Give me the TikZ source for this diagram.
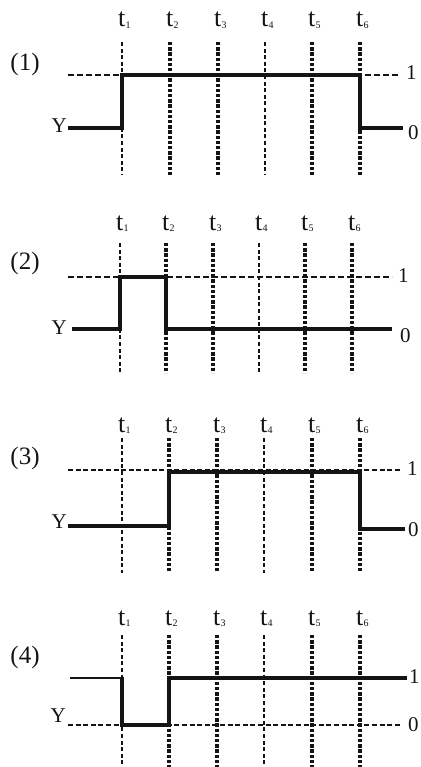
\documentclass[tikz,border=0pt]{standalone}
\usepackage{fontspec}
\setmainfont{Liberation Serif}
\definecolor{waveInk}{HTML}{141414}
\newcommand{\tmark}[1]{t\kern0.2pt\raisebox{-1.2pt}{\fontsize{10}{10}\selectfont #1}}
\tikzset{
  timefig/.style={
    x=1pt, y=-1pt,
    every node/.append style={inner sep=0pt, text=waveInk},
  },
  tthin/.style={draw=waveInk, line width=1.7pt, dash pattern=on 4pt off 2.6pt},
  tthick/.style={draw=waveInk, line width=3.3pt, dash pattern=on 3.4pt off 1.8pt},
  levelthin/.style={draw=waveInk, line width=1.4pt, dash pattern=on 6pt off 3pt},
  levelthick/.style={draw=waveInk, line width=2.4pt, dash pattern=on 5pt off 2.6pt},
  wave/.style={draw=waveInk, line width=3.4pt, line join=miter},
  tlabel/.style={font=\fontsize{26}{26}\selectfont, anchor=base west},
  panellabel/.style={font=\fontsize{25}{25}\selectfont},
  levellabel/.style={font=\fontsize{21}{21}\selectfont, anchor=west},
  ylabel/.style={font=\fontsize{21}{21}\selectfont, anchor=east},
}

\begin{document}
\begin{tikzpicture}[timefig]
  \useasboundingbox (0,0) rectangle (420,767);
  % (1)
  \foreach \i/\x/\s in {1/122/tthin, 2/170/tthick, 3/218/tthick, 4/265/tthin, 5/312/tthick, 6/360/tthick} {
    \draw[\s] (\x,42) -- (\x,175);
    \node[tlabel] (tA\i) at (\x-4,27) {\tmark{\i}};
  }
  \node[panellabel] (panelA) at (25,64) {(1)};
  \node[ylabel] (yA) at (67,126) {Y};
  \node[levellabel] (oneA) at (406,73) {1};
  \node[levellabel] (zeroA) at (408,133) {0};
  \draw[levelthin] (68,75) -- (398,75);
  \draw[wave] (68,128) -- (122,128) -- (122,75) -- (360,75) -- (360,128) -- (403,128);
  % (2)
  \foreach \i/\x/\s in {1/120/tthin, 2/166/tthick, 3/213/tthick, 4/259/tthin, 5/305/tthick, 6/352/tthick} {
    \draw[\s] (\x,243) -- (\x,373);
    \node[tlabel] (tB\i) at (\x-4,230) {\tmark{\i}};
  }
  \node[panellabel] (panelB) at (25,263) {(2)};
  \node[ylabel] (yB) at (67,328) {Y};
  \node[levellabel] (oneB) at (398,276) {1};
  \node[levellabel] (zeroB) at (400,336) {0};
  \draw[levelthin] (68,277) -- (392,277);
  \draw[wave] (72,329) -- (120,329) -- (120,277) -- (166,277) -- (166,329) -- (392,329);
  % (3)
  \foreach \i/\x/\s in {1/122/tthin, 2/169/tthick, 3/217/tthick, 4/264/tthin, 5/312/tthick, 6/360/tthick} {
    \draw[\s] (\x,438) -- (\x,573);
    \node[tlabel] (tC\i) at (\x-4,432) {\tmark{\i}};
  }
  \node[panellabel] (panelC) at (25,458) {(3)};
  \node[ylabel] (yC) at (67,522) {Y};
  \node[levellabel] (oneC) at (407,469) {1};
  \node[levellabel] (zeroC) at (408,530) {0};
  \draw[levelthick] (68,470) -- (400,470);
  \draw[wave] (68,526) -- (169,526) -- (169,472) -- (360,472) -- (360,529) -- (405,529);
  % (4)
  \foreach \i/\x/\s in {1/122/tthin, 2/169/tthick, 3/217/tthick, 4/264/tthin, 5/312/tthick, 6/360/tthick} {
    \draw[\s] (\x,635) -- (\x,767);
    \node[tlabel] (tD\i) at (\x-4,625) {\tmark{\i}};
  }
  \node[panellabel] (panelD) at (25,657) {(4)};
  \node[ylabel] (yD) at (66,716) {Y};
  \node[levellabel] (oneD) at (409,677) {1};
  \node[levellabel] (zeroD) at (408,725) {0};
  \draw[levelthick] (68,725) -- (400,725);
  \draw[wave, line width=2.2pt] (70,678) -- (122,678);
  \draw[wave] (122,677) -- (122,725) -- (169,725) -- (169,678) -- (407,678);
\end{tikzpicture}
\end{document}
